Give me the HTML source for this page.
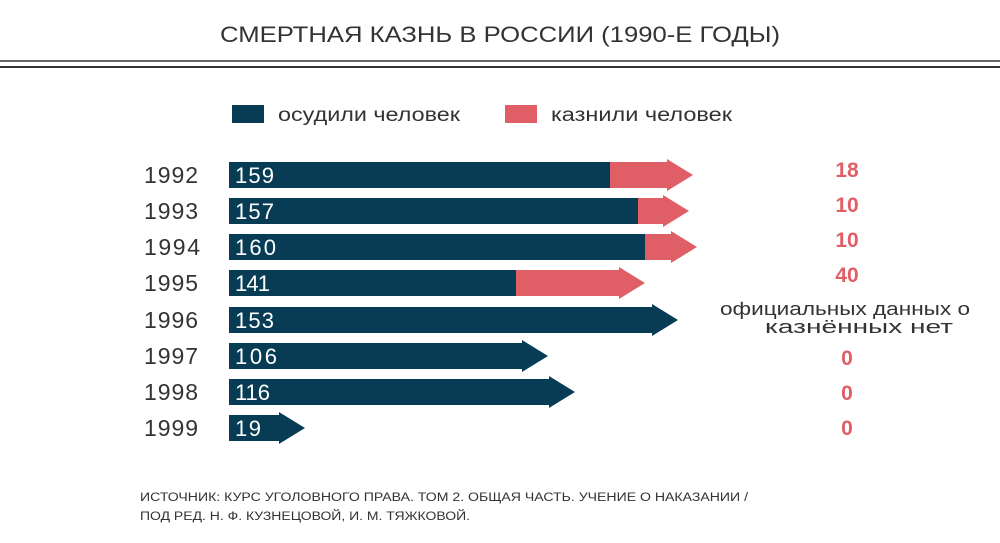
<!DOCTYPE html>
<html><head><meta charset="utf-8"><style>
body{margin:0;background:#fff;width:1000px;height:538px;overflow:hidden;font-family:"Liberation Sans","DejaVu Sans",sans-serif;}
</style></head><body>
<svg width="1000" height="538" xmlns="http://www.w3.org/2000/svg" font-family="Liberation Sans, DejaVu Sans, sans-serif">
<text x="220" y="42" font-size="22" fill="#333" textLength="560" lengthAdjust="spacingAndGlyphs">СМЕРТНАЯ КАЗНЬ В РОССИИ (1990-Е ГОДЫ)</text>
<rect x="0" y="60" width="1000" height="2" fill="#666"/>
<rect x="0" y="66" width="1000" height="2" fill="#333"/>
<rect x="232" y="105" width="32" height="18" fill="#083c55"/>
<text x="278" y="121" font-size="19" fill="#333" textLength="182" lengthAdjust="spacingAndGlyphs">осудили человек</text>
<rect x="505" y="105" width="32" height="18" fill="#e05f66"/>
<text x="551" y="121" font-size="19" fill="#333" textLength="181" lengthAdjust="spacingAndGlyphs">казнили человек</text>
<g font-size="23" fill="#333">
<text x="144" y="183" textLength="54">1992</text><text x="144" y="219" textLength="54">1993</text><text x="144" y="255" textLength="56">1994</text><text x="144" y="291" textLength="54">1995</text>
<text x="144" y="328" textLength="54">1996</text><text x="144" y="364" textLength="54">1997</text><text x="144" y="400" textLength="54">1998</text><text x="144" y="436" textLength="54">1999</text>
</g>
<g>
<polygon points="229,162 667,162 667,159 693,175 667,191 667,188 229,188" fill="#e05f66"/>
<rect x="229" y="162" width="381" height="26" fill="#083c55"/>
<polygon points="229,198 663,198 663,195 689,211 663,227 663,224 229,224" fill="#e05f66"/>
<rect x="229" y="198" width="409" height="26" fill="#083c55"/>
<polygon points="229,234 671,234 671,231 697,247 671,263 671,260 229,260" fill="#e05f66"/>
<rect x="229" y="234" width="416" height="26" fill="#083c55"/>
<polygon points="229,270 619,270 619,267 645,283 619,299 619,296 229,296" fill="#e05f66"/>
<rect x="229" y="270" width="287" height="26" fill="#083c55"/>
<polygon points="229,307 652,307 652,304 678,320 652,336 652,333 229,333" fill="#083c55"/>
<polygon points="229,343 522,343 522,340 548,356 522,372 522,369 229,369" fill="#083c55"/>
<polygon points="229,379 549,379 549,376 575,392 549,408 549,405 229,405" fill="#083c55"/>
<polygon points="229,415 279,415 279,412 305,428 279,444 279,441 229,441" fill="#083c55"/>
</g>
<g font-size="22" fill="#fff">
<text x="235" y="183" textLength="39">159</text><text x="235" y="219" textLength="39">157</text><text x="235" y="255" textLength="41">160</text><text x="235" y="291" textLength="35">141</text>
<text x="235" y="328" textLength="39">153</text><text x="235" y="364" textLength="42">106</text><text x="235" y="400" textLength="35">116</text><text x="235" y="436" textLength="26">19</text>
</g>
<g font-size="21" font-weight="bold" fill="#e05f66" text-anchor="middle">
<text x="847" y="177">18</text><text x="847" y="212">10</text><text x="847" y="247">10</text><text x="847" y="282">40</text>
<text x="847" y="365">0</text><text x="847" y="400">0</text><text x="847" y="435">0</text>
</g>
<text x="720" y="315" font-size="18" fill="#333" textLength="250" lengthAdjust="spacingAndGlyphs">официальных данных о</text>
<text x="765" y="333" font-size="18" fill="#333" textLength="188" lengthAdjust="spacingAndGlyphs">казнённых нет</text>
<text x="140" y="501" font-size="11.5" fill="#333" textLength="608" lengthAdjust="spacingAndGlyphs">ИСТОЧНИК: КУРС УГОЛОВНОГО ПРАВА. ТОМ 2. ОБЩАЯ ЧАСТЬ. УЧЕНИЕ О НАКАЗАНИИ /</text>
<text x="140" y="520" font-size="11.5" fill="#333" textLength="330" lengthAdjust="spacingAndGlyphs">ПОД РЕД. Н. Ф. КУЗНЕЦОВОЙ, И. М. ТЯЖКОВОЙ.</text>
</svg>
</body></html>
